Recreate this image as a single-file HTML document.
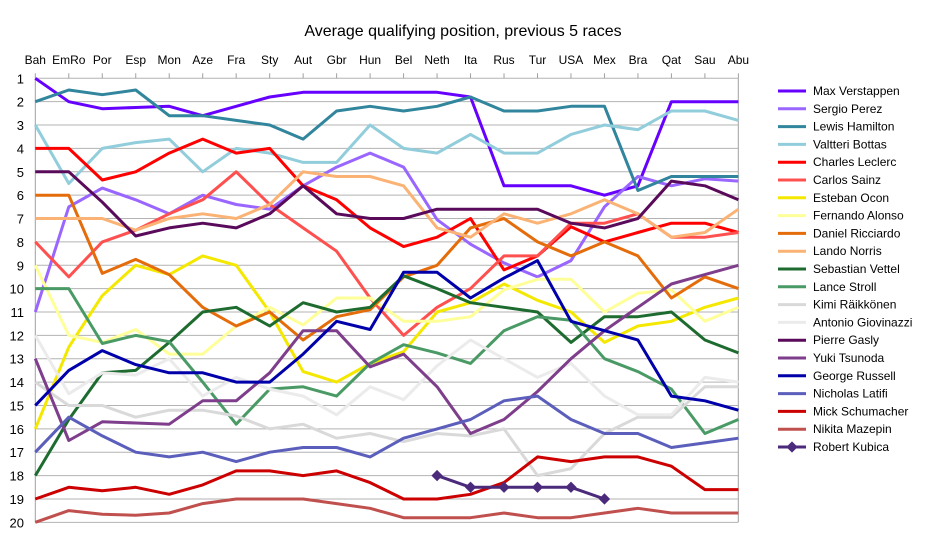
<!DOCTYPE html>
<html><head><meta charset="utf-8"><style>
body{margin:0;background:#fff;font-family:"Liberation Sans",sans-serif;}
</style></head><body>
<svg id="s" width="926" height="540" xmlns="http://www.w3.org/2000/svg" font-family="Liberation Sans, sans-serif"></svg>
<script>
const cats="Bah EmRo Por Esp Mon Aze Fra Sty Aut Gbr Hun Bel Neth Ita Rus Tur USA Mex Bra Qat Sau Abu".split(" ");
const X=i=>35.3+i*33.48, Y=v=>78.3+(v-1)*23.37;
const N=null;
const S=[
["Max Verstappen","#6600ff",[1,2,2.3,2.25,2.2,2.6,2.2,1.8,1.6,1.6,1.6,1.6,1.6,1.8,5.6,5.6,5.6,6.0,5.6,2,2,2]],
["Sergio Perez","#9966ff",[11,6.5,5.7,6.2,6.8,6.0,6.4,6.6,5.6,4.8,4.2,4.8,7.05,8.1,8.9,9.5,8.8,6.5,5.2,5.6,5.3,5.4]],
["Lewis Hamilton","#31859c",[2,1.5,1.7,1.5,2.6,2.6,2.8,3.0,3.6,2.4,2.2,2.4,2.2,1.8,2.4,2.4,2.2,2.2,5.8,5.2,5.2,5.2]],
["Valtteri Bottas","#92cddc",[3,5.5,4,3.75,3.6,5,4,4.2,4.6,4.6,3,4,4.2,3.4,4.2,4.2,3.4,3.0,3.2,2.4,2.4,2.8]],
["Charles Leclerc","#ff0000",[4,4,5.35,5,4.2,3.6,4.2,4,5.6,6.2,7.4,8.2,7.8,7.0,9.2,8.6,7.35,8.0,7.6,7.2,7.2,7.6]],
["Carlos Sainz","#ff5050",[8,9.5,8,7.5,6.8,6.2,5,6.4,7.4,8.4,10.4,12,10.8,10,8.6,8.6,7.2,7.2,6.8,7.8,7.8,7.6]],
["Esteban Ocon","#f5e800",[16,12.5,10.3,9,9.4,8.6,9,11,13.55,14,13.2,12.7,11,10.6,9.8,10.5,11,12.3,11.6,11.4,10.8,10.4]],
["Fernando Alonso","#ffff99",[9,12,12.3,11.75,12.8,12.8,11.6,10.8,11.55,10.4,10.4,11.4,11.4,11.2,10.05,9.6,9.6,11,10.2,10.05,11.4,10.8]],
["Daniel Ricciardo","#e46c0a",[6,6,9.35,8.75,9.4,10.8,11.6,11.0,12.2,11.2,10.9,9.5,9.0,7.4,7.0,8.0,8.6,8.0,8.6,10.4,9.5,10.0]],
["Lando Norris","#fab374",[7,7,7,7.5,7,6.8,7,6.4,5,5.2,5.2,5.6,7.4,7.8,6.8,7.2,6.8,6.2,6.8,7.8,7.6,6.6]],
["Sebastian Vettel","#1e6b30",[18,15.6,13.6,13.5,12.3,11,10.8,11.6,10.6,11,10.8,9.45,10.0,10.6,10.8,11,12.3,11.2,11.2,11,12.2,12.75]],
["Lance Stroll","#4a9a66",[10,10,12.35,12,12.27,14,15.8,14.3,14.2,14.6,13.2,12.4,12.75,13.2,11.8,11.2,11.35,13,13.55,14.3,16.2,15.6]],
["Kimi Räikkönen","#d9d9d9",[14,15,15,15.5,15.2,15.2,15.45,16,15.8,16.4,16.2,16.55,16.2,16.3,16,18,17.7,16.2,15.5,15.5,14.2,14.2]],
["Antonio Giovinazzi","#ebebeb",[12,14.5,13.6,13.7,13,14.6,13.8,14.3,14.6,15.4,14.2,14.75,13.3,12.2,13,13.8,13.2,14.6,15.4,15.4,13.8,14]],
["Pierre Gasly","#5a0a5a",[5,5,6.3,7.75,7.4,7.2,7.4,6.8,5.6,6.8,7,7,6.6,6.6,6.6,6.6,7.2,7.4,7,5.4,5.6,6.2]],
["Yuki Tsunoda","#7e3e8c",[13,16.5,15.7,15.75,15.8,14.8,14.8,13.6,11.8,11.8,13.35,12.8,14.2,16.2,15.6,14.4,13,11.8,10.8,9.8,9.4,9.0]],
["George Russell","#0000aa",[15,13.5,12.65,13.25,13.6,13.6,14,14,12.8,11.4,11.75,9.3,9.3,10.4,9.55,8.8,11.4,11.8,12.2,14.6,14.8,15.2]],
["Nicholas Latifi","#5b5fbb",[17,15.5,16.3,17,17.2,17,17.4,17,16.8,16.8,17.2,16.4,16,15.6,14.8,14.6,15.6,16.2,16.2,16.8,16.6,16.4]],
["Mick Schumacher","#cc0000",[19,18.5,18.65,18.5,18.8,18.4,17.8,17.8,18,17.8,18.3,19,19,18.8,18.3,17.2,17.4,17.2,17.2,17.6,18.6,18.6]],
["Nikita Mazepin","#c0504d",[20,19.5,19.65,19.7,19.6,19.2,19,19,19,19.2,19.4,19.8,19.8,19.8,19.6,19.8,19.8,19.6,19.4,19.6,19.6,19.6]],
["Robert Kubica","#4b2a7b",[N,N,N,N,N,N,N,N,N,N,N,N,18,18.5,18.5,18.5,18.5,19,N,N,N,N]]
];
let h='';
h+=`<text x="463" y="36" font-size="16" text-anchor="middle" fill="#000">Average qualifying position, previous 5 races</text>`;
for(let v=1;v<=20;v++){h+=`<line x1="35" x2="738" y1="${Y(v)}" y2="${Y(v)}" stroke="#b3b3b3" stroke-width="1"/>`;
h+=`<text x="24" y="${Y(v)+5}" font-size="13" text-anchor="end" fill="#000">${v}</text>`;}
h+=`<line x1="35.3" x2="35.3" y1="${Y(1)}" y2="${Y(20)}" stroke="#a0a0a0"/>`;
h+=`<line x1="738.3" x2="738.3" y1="${Y(1)}" y2="${Y(20)}" stroke="#a0a0a0"/>`;
cats.forEach((c,i)=>{h+=`<line x1="${X(i)}" x2="${X(i)}" y1="${Y(1)-5}" y2="${Y(1)}" stroke="#a0a0a0"/>`;
h+=`<text x="${X(i)}" y="64" font-size="12" text-anchor="middle" fill="#000">${c}</text>`;});
S.forEach(([n,c,d])=>{let p=[];d.forEach((v,i)=>{if(v!==null)p.push(X(i).toFixed(1)+','+Y(v).toFixed(1));});
h+=`<polyline points="${p.join(' ')}" fill="none" stroke="${c}" stroke-width="3" stroke-linejoin="round"/>`;
if(n==="Robert Kubica")d.forEach((v,i)=>{if(v!==null)h+=`<rect x="${X(i)-4}" y="${Y(v)-4}" width="8" height="8" fill="${c}" transform="rotate(45 ${X(i)} ${Y(v)})"/>`;});});
S.forEach(([n,c],k)=>{const y=91+k*17.8;
h+=`<line x1="778" x2="806" y1="${y}" y2="${y}" stroke="${c}" stroke-width="3"/>`;
if(n==="Robert Kubica")h+=`<rect x="788" y="${y-4}" width="8" height="8" fill="${c}" transform="rotate(45 792 ${y})"/>`;
h+=`<text x="813" y="${y+4}" font-size="12" fill="#000">${n}</text>`;});
document.getElementById('s').innerHTML=h;
</script>
</body></html>
